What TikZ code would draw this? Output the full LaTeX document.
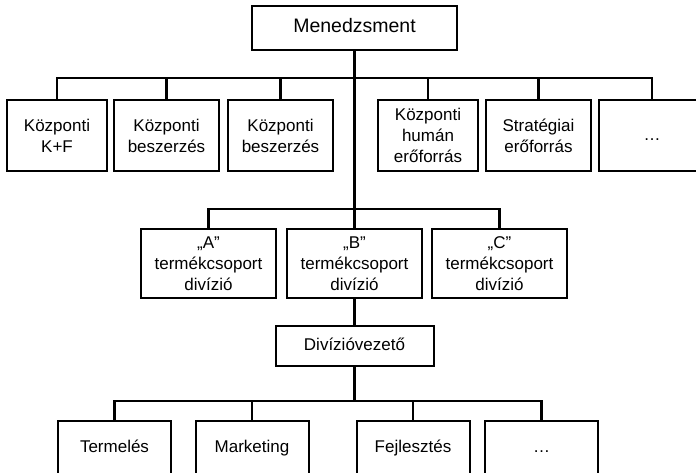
\documentclass[tikz,border=0pt]{standalone}
\usepackage{fontspec}
\setmainfont{Liberation Sans}
\begin{document}
\begin{tikzpicture}[x=1pt,y=-1pt,
  box/.style={draw=black,line width=2pt,fill=white,align=center,inner sep=0pt,
    font=\fontsize{17}{21}\selectfont},
  one/.style={text height=12.5pt,text depth=3.5pt},
  link/.style={draw=black,line width=2.2pt}]
\clip (0,0) rectangle (696,472);
% top
\node[box,one,minimum width=205pt,minimum height=44pt,font=\fontsize{19.5}{23}\selectfont] (M) at (354.5,28) {Menedzsment};
% staff row
\node[box,minimum width=100pt,minimum height=71pt] (k1) at (57,135.5) {Központi\\K+F};
\node[box,minimum width=105pt,minimum height=71pt] (k2) at (166.5,135.5) {Központi\\beszerzés};
\node[box,minimum width=105pt,minimum height=71pt] (k3) at (280.5,135.5) {Központi\\beszerzés};
\node[box,minimum width=100pt,minimum height=71pt] (k4) at (428,135.5) {Központi\\humán\\erőforrás};
\node[box,minimum width=105pt,minimum height=71pt] (k5) at (538.5,135.5) {Stratégiai\\erőforrás};
\node[box,one,minimum width=106pt,minimum height=71pt] (k6) at (652,135.5) {…};
\coordinate (busT) at (354.5,78);
% divisions
\node[box,minimum width=135pt,minimum height=69pt] (dA) at (208.5,263.5) {„A”\\termékcsoport\\divízió};
\node[box,minimum width=135pt,minimum height=69pt] (dB) at (354.5,263.5) {„B”\\termékcsoport\\divízió};
\node[box,minimum width=135pt,minimum height=69pt] (dC) at (499.5,263.5) {„C”\\termékcsoport\\divízió};
\coordinate (busD) at (354.5,209);
% division head
\node[box,one,minimum width=158pt,minimum height=40pt] (V) at (354.5,346) {Divízióvezető};
\coordinate (busB) at (354.5,401);
% functions
\node[box,one,minimum width=113pt,minimum height=53pt] (f1) at (114.5,447.5) {Termelés};
\node[box,one,minimum width=113pt,minimum height=53pt] (f2) at (252,447.5) {Marketing};
\node[box,one,minimum width=113pt,minimum height=53pt] (f3) at (413,447.5) {Fejlesztés};
\node[box,one,minimum width=113pt,minimum height=53pt] (f4) at (541.5,447.5) {…};
% connectors
\draw[link] (k1.north) |- (busT) -| (k6.north);
\foreach \n in {k2,k3,k4,k5} \draw[link] (\n.north) -- (\n.north |- busT);
\draw[link] (M.south) -- (busD);
\draw[link] (dA.north) |- (busD) -| (dC.north);
\draw[link] (busD) -- (dB.north);
\draw[link] (dB.south) -- (V.north);
\draw[link] (V.south) -- (busB);
\draw[link] (f1.north) |- (busB) -| (f4.north);
\foreach \n in {f2,f3} \draw[link] (\n.north) -- (\n.north |- busB);
\end{tikzpicture}
\end{document}
